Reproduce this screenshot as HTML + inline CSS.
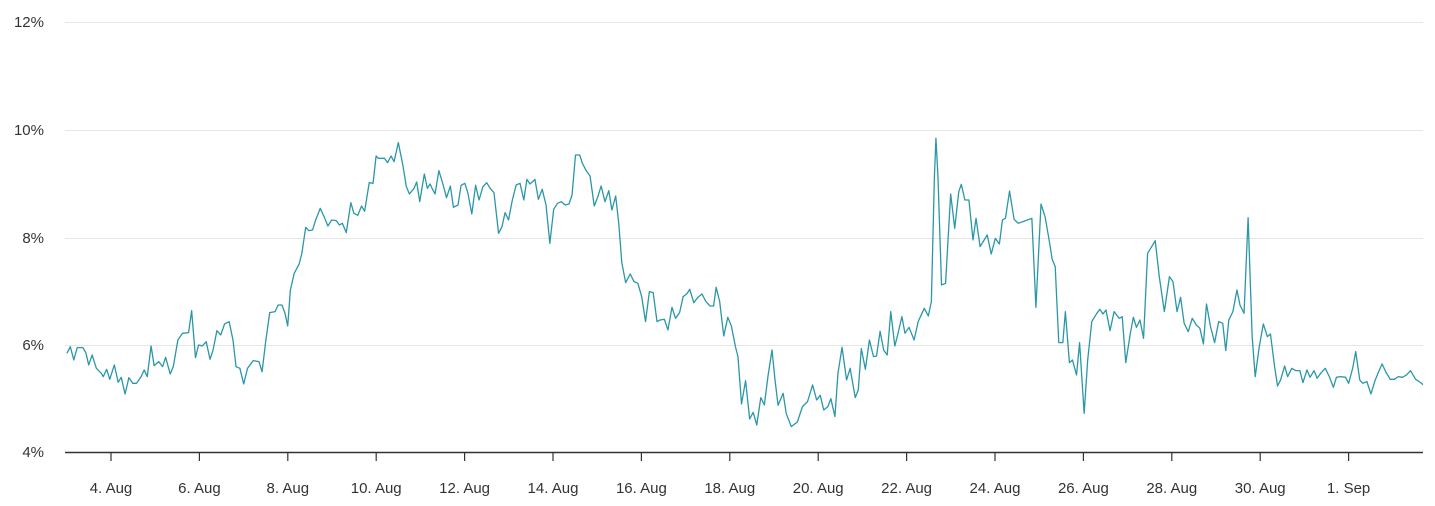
<!DOCTYPE html>
<html><head><meta charset="utf-8"><style>
html,body{margin:0;padding:0;background:#fff;}
svg{display:block;font-family:"Liberation Sans",sans-serif;}
</style></head><body>
<svg width="1435" height="506" viewBox="0 0 1435 506" xmlns="http://www.w3.org/2000/svg">
<g stroke="#e6e6e6" stroke-width="1">
<line x1="65" y1="22.5" x2="1423" y2="22.5"/>
<line x1="65" y1="130.5" x2="1423" y2="130.5"/>
<line x1="65" y1="238.5" x2="1423" y2="238.5"/>
<line x1="65" y1="345.5" x2="1423" y2="345.5"/>
</g>
<g font-size="15" fill="#333" text-anchor="end">
<text x="44" y="27">12%</text>
<text x="44" y="135">10%</text>
<text x="44" y="243">8%</text>
<text x="44" y="350">6%</text>
<text x="44" y="457">4%</text>
</g>
<line x1="65" y1="452.5" x2="1423" y2="452.5" stroke="#333" stroke-width="1.5"/>
<g stroke="#333" stroke-width="1.2">
<line x1="111" y1="452" x2="111" y2="461"/><line x1="199.4" y1="452" x2="199.4" y2="461"/><line x1="287.8" y1="452" x2="287.8" y2="461"/><line x1="376.2" y1="452" x2="376.2" y2="461"/><line x1="464.6" y1="452" x2="464.6" y2="461"/><line x1="553" y1="452" x2="553" y2="461"/><line x1="641.4" y1="452" x2="641.4" y2="461"/><line x1="729.8" y1="452" x2="729.8" y2="461"/><line x1="818.2" y1="452" x2="818.2" y2="461"/><line x1="906.6" y1="452" x2="906.6" y2="461"/><line x1="995" y1="452" x2="995" y2="461"/><line x1="1083.4" y1="452" x2="1083.4" y2="461"/><line x1="1171.8" y1="452" x2="1171.8" y2="461"/><line x1="1260.2" y1="452" x2="1260.2" y2="461"/><line x1="1348.6" y1="452" x2="1348.6" y2="461"/>
</g>
<g font-size="15" fill="#333" text-anchor="middle">
<text x="111" y="493">4. Aug</text><text x="199.4" y="493">6. Aug</text><text x="287.8" y="493">8. Aug</text><text x="376.2" y="493">10. Aug</text><text x="464.6" y="493">12. Aug</text><text x="553" y="493">14. Aug</text><text x="641.4" y="493">16. Aug</text><text x="729.8" y="493">18. Aug</text><text x="818.2" y="493">20. Aug</text><text x="906.6" y="493">22. Aug</text><text x="995" y="493">24. Aug</text><text x="1083.4" y="493">26. Aug</text><text x="1171.8" y="493">28. Aug</text><text x="1260.2" y="493">30. Aug</text><text x="1348.6" y="493">1. Sep</text>
</g>
<defs><clipPath id="c"><rect x="65" y="0" width="1358" height="460"/></clipPath></defs>
<g clip-path="url(#c)" fill="none" stroke="#2a97a8" stroke-width="1.3" stroke-linejoin="round">
<g transform="translate(60,120) scale(0.3827,0.3333)">
<polyline vector-effect="non-scaling-stroke" points="18,700 27,680 36,720 45,683 60,683 68,700 75,735 84,705 95,745 108,760 113,770 122,748 130,778 142,735 152,787 160,772 170,822 180,773 190,790 200,790 212,770 220,750 228,770 238,678 246,737 258,725 268,740 276,712 288,762 296,740 308,660 320,640 336,638 344,572 354,713 362,675 372,678 382,665 392,718 400,690 410,632 420,645 430,612 442,605 452,660 460,740 470,745 480,792 490,745 505,722 520,725 528,755 538,660 548,578 562,575 570,555 580,555 588,580 595,618 602,510 612,460 625,432 632,400 642,322 650,332 660,330 668,300 680,265 690,290 700,318 710,300 722,302 730,315 738,310 748,338 760,248 768,280 778,286 788,258 796,274 808,188 818,190 826,108 832,115 848,115 856,128 865,108 873,125 884,68 895,130 905,200 913,222 925,205 932,186 940,245 952,162 960,205 967,192 973,207 980,222 990,152 1000,190 1010,233 1020,198 1028,262 1040,255 1048,196 1058,190 1066,220 1076,282 1086,196 1095,240 1105,200 1115,188 1124,205 1134,218 1146,340 1155,320 1163,278 1172,300 1182,240 1192,195 1202,190 1212,240 1220,178 1228,192 1235,185 1241,178 1250,238 1260,208 1270,255 1280,370 1290,268 1300,250 1310,245 1320,255 1330,252 1338,225 1347,105 1358,105 1365,130 1375,152 1385,168 1396,258 1406,228 1414,198 1424,245 1434,212 1442,270 1452,228 1460,310 1468,428 1478,488 1490,462 1500,485 1510,490 1520,530 1530,605 1540,515 1550,518 1560,605 1568,600"/>
</g>
<g transform="translate(640,120) scale(0.5076,0.3333)">
<polyline vector-effect="non-scaling-stroke" points="39,600 48,598 55,630 63,562 70,595 78,578 85,530 92,522 98,508 106,548 114,532 122,522 130,545 138,558 145,558 150,502 157,545 165,648 173,592 180,618 188,680 193,710 200,852 208,782 216,897 223,877 230,915 238,833 245,855 252,770 260,690 266,780 272,856 282,820 288,880 298,920 310,906 320,860 330,845 340,795 348,840 355,826 362,870 370,860 376,836 384,890 390,760 398,682 407,780 414,745 424,833 430,810 436,686 444,748 452,660 460,710 466,708 473,634 480,690 487,705 494,575 502,678 508,642 516,590 522,640 530,622 540,660 548,605 560,565 568,588 574,545 580,170 583,55 587,170 594,495 602,490 612,222 620,325 628,215 633,193 640,240 648,240 656,360 662,295 670,380 684,345 692,402 700,355 708,372 714,300 720,295 728,213 737,298 745,310 760,302 772,295 780,562 790,252 798,290 806,360 812,418 818,440 825,668 833,668 838,575 846,728 852,720 860,765 866,668 875,880 882,720 890,605 900,580 906,568 912,582 918,570 926,632 934,575 944,595 950,590 957,728 966,640 972,592 978,622 985,600 992,655 1000,400 1008,380 1015,362 1023,470 1033,575 1043,470 1050,485 1058,575 1065,532 1072,610 1080,635 1088,595 1096,615 1103,625 1110,672 1116,552 1124,620 1132,668 1140,605 1148,610 1154,692 1160,600 1168,575 1176,510 1182,555 1190,580 1198,293 1206,650 1212,770 1220,680 1228,612 1236,650 1242,642 1250,738 1256,798 1262,780 1270,738 1276,770 1284,745 1292,752 1300,752 1306,788 1314,750 1320,772 1328,752 1334,775 1342,758 1350,745 1358,770 1366,802 1372,772 1380,770 1390,772 1396,790 1404,745 1410,695 1418,780 1424,790 1432,785 1440,822 1448,782 1456,752 1462,732 1470,758 1478,778 1486,778 1494,770 1502,772 1510,765 1518,752 1528,778 1538,788 1548,802 1556,772"/>
</g>
</g>
</svg>
</body></html>
